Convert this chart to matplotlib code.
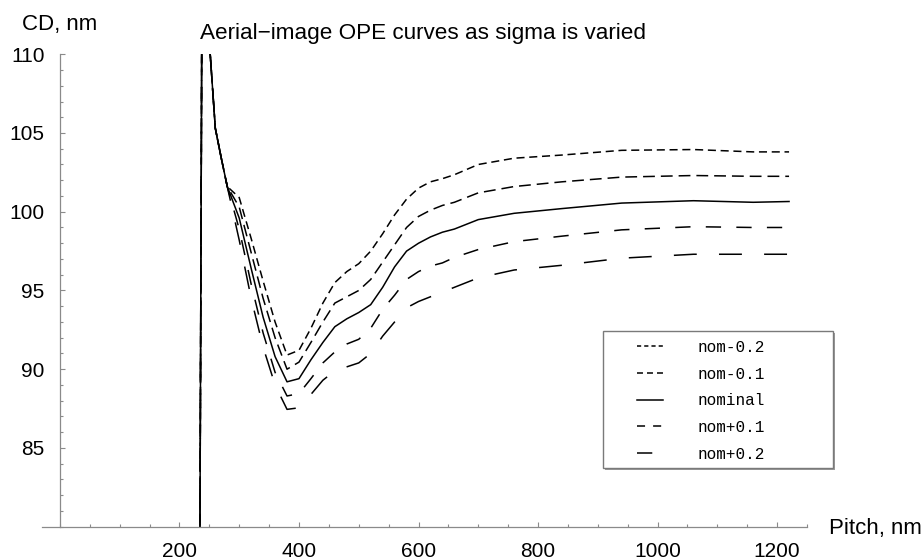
import matplotlib.pyplot as plt
from matplotlib.lines import Line2D
from matplotlib.patches import Rectangle
from matplotlib.ticker import MultipleLocator

# pitch (nm) sampled along the curves
pitch = [232, 240, 250, 260, 270, 280, 300, 320, 340, 360, 380, 400, 420, 440, 460,
         480, 500, 520, 540, 560, 580, 600, 620, 640, 660, 700, 760, 840, 940,
         1060, 1160, 1220]

# shared steep start (resolution limit) for all sigma settings
head = [56, 139, 110.8, 105.3, 103.4, 101.6]

cd_nom_m02 = head + [100.9, 98.3, 95.6, 93.0, 90.9, 91.2, 92.6, 94.2, 95.5, 96.2, 96.7,
                     97.5, 98.6, 99.8, 100.8, 101.5, 101.9, 102.1, 102.35, 103.0, 103.4,
                     103.6, 103.9, 103.95, 103.8, 103.8]
cd_nom_m01 = head + [100.3, 97.4, 94.5, 92.0, 90.0, 90.45, 91.7, 93.0, 94.2, 94.6, 95.0,
                     95.7, 96.8, 97.9, 99.0, 99.7, 100.1, 100.4, 100.6, 101.2, 101.6,
                     101.9, 102.2, 102.3, 102.25, 102.25]
cd_nominal = head + [99.6, 96.4, 93.3, 90.8, 89.2, 89.4, 90.6, 91.7, 92.7, 93.2, 93.6,
                     94.1, 95.2, 96.5, 97.5, 98.0, 98.4, 98.7, 98.9, 99.5, 99.9,
                     100.2, 100.55, 100.7, 100.6, 100.65]
cd_nom_p01 = head + [98.9, 95.4, 92.3, 89.8, 88.3, 88.45, 89.4, 90.4, 91.1, 91.6, 91.9,
                     92.6, 93.8, 94.7, 95.7, 96.2, 96.55, 96.75, 97.1, 97.6, 98.1,
                     98.45, 98.85, 99.05, 99.0, 99.0]
cd_nom_p02 = head + [98.2, 94.5, 91.4, 89.0, 87.45, 87.55, 88.4, 89.3, 89.9, 90.15, 90.4,
                     91.0, 92.1, 93.0, 93.9, 94.3, 94.6, 94.9, 95.2, 95.8, 96.3,
                     96.6, 97.05, 97.3, 97.3, 97.3]

labels = ["nom-0.2", "nom-0.1", "nominal", "nom+0.1", "nom+0.2"]
series = [cd_nom_m02, cd_nom_m01, cd_nominal, cd_nom_p01, cd_nom_p02]

# dash patterns in points: (on, off), None = solid
curve_dashes = [(5.8, 3.4), (8.5, 4.3), None, (11, 11), (16.5, 16)]
legend_dashes = [(3.0, 2.2), (4.3, 2.9), None, (5.8, 5.8), (11, 20)]

plt.rcParams['font.family'] = ['Liberation Sans', 'DejaVu Sans']
plt.rcParams['lines.scale_dashes'] = False

fig = plt.figure(figsize=(9.23, 5.6), dpi=100)
ax = fig.add_axes([0.0455, 0.0595, 0.8288, 0.8436])

for cd, dash in zip(series, curve_dashes):
    line, = ax.plot(pitch, cd, color='black', lw=1.1)
    if dash is not None:
        line.set_dashes(dash)

ax.set_xlim(-30, 1250)
ax.set_ylim(80, 110)

# Mathematica-like axes: crossing at (0, 80), grey, ticks inside
axis_grey = '#8a8a8a'
ax.spines['top'].set_visible(False)
ax.spines['right'].set_visible(False)
ax.spines['left'].set_position(('data', 0))
for s in ['left', 'bottom']:
    ax.spines[s].set_color(axis_grey)
    ax.spines[s].set_linewidth(0.9)

ax.set_xticks([200, 400, 600, 800, 1000, 1200])
ax.xaxis.set_minor_locator(MultipleLocator(50))
ax.set_yticks([85, 90, 95, 100, 105, 110])
ax.yaxis.set_minor_locator(MultipleLocator(1))
ax.tick_params(which='both', direction='in', color=axis_grey, width=0.8)
ax.tick_params(which='major', length=3.5, labelsize=15)
ax.tick_params(which='minor', length=2)
ax.tick_params(axis='x', which='major', pad=11)
ax.tick_params(axis='y', which='major', pad=11)

fig.text(22 / 923, 1 - 30 / 560, "CD, nm", fontsize=16, ha='left', va='baseline')
fig.text(829 / 923, 1 - 534 / 560, "Pitch, nm", fontsize=16, ha='left', va='baseline')
fig.text(200 / 923, 1 - 39 / 560, "Aerial\u2212image OPE curves as sigma is varied",
         fontsize=16.2, ha='left', va='baseline')

# legend frame with a small shadow, drawn in pixels of the figure
x0, y0, w, h = 603 / 923, 1 - 468 / 560, 230 / 923, 137 / 560
fig.patches.append(Rectangle((x0 + 2 / 923, y0 - 2 / 560), w, h, transform=fig.transFigure,
                             facecolor='#9a9a9a', edgecolor='none', zorder=3))
fig.patches.append(Rectangle((x0, y0), w, h, transform=fig.transFigure,
                             facecolor='white', edgecolor='#7a7a7a', lw=1.0, zorder=4))

handles = []
for dash in legend_dashes:
    h_line = Line2D([], [], color='black', lw=1.1)
    if dash is not None:
        h_line.set_dashes(dash)
    handles.append(h_line)

leg = fig.legend(handles, labels, loc='upper left', bbox_to_anchor=(637 / 923, 1 - 340 / 560),
                 frameon=False, borderpad=0, borderaxespad=0, handlelength=1.6,
                 handletextpad=2.2, labelspacing=0.73,
                 prop={'family': 'Liberation Mono', 'size': 11.5})
leg.set_zorder(5)

fig.savefig("out.png", dpi=100)
